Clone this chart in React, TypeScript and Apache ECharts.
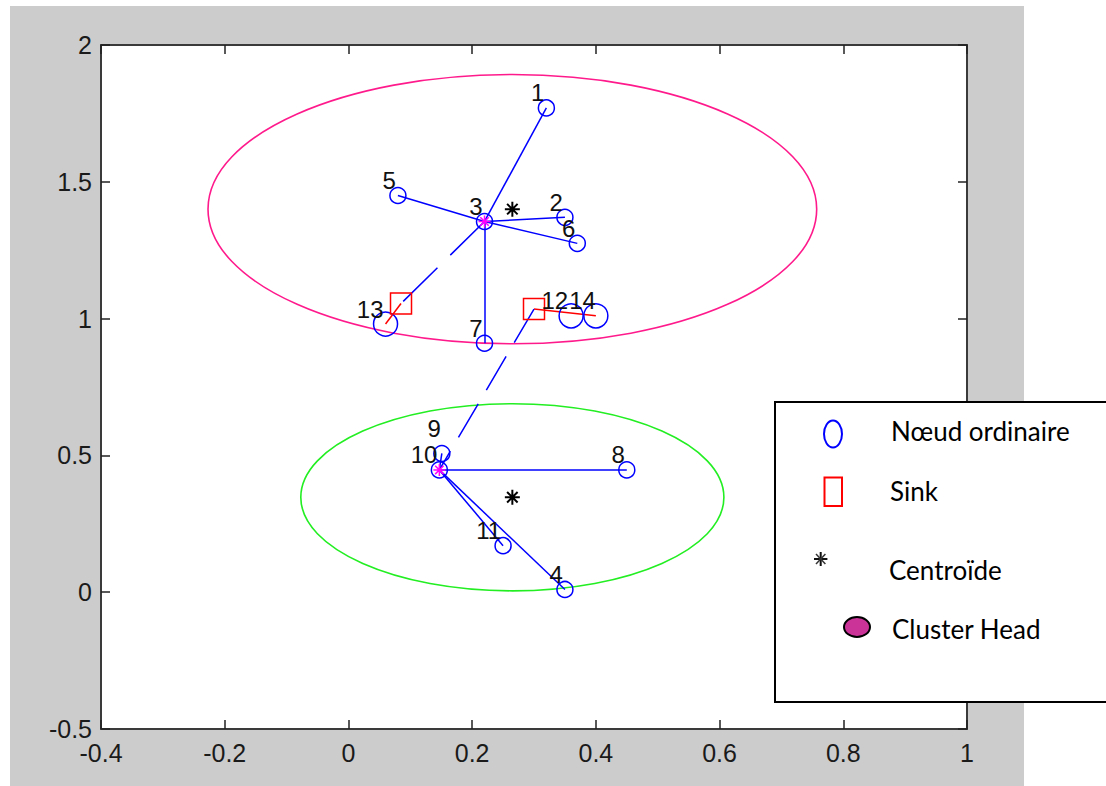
import React, { useEffect, useRef } from "react";
import * as echarts from "echarts";

// ---- data ----
const nodeIds = [1, 2, 3, 4, 5, 6, 7, 8, 9, 10, 11, 12, 13, 14];
const nodeX = [0.32, 0.35, 0.22, 0.35, 0.08, 0.37, 0.22, 0.45, 0.151, 0.147, 0.25, 0.36, 0.06, 0.4];
const nodeY = [1.77, 1.37, 1.355, 0.01, 1.45, 1.275, 0.91, 0.447, 0.507, 0.447, 0.17, 1.01, 0.98, 1.01];
const largeNodeIds = [12, 13, 14];
const clusterHeadIds = [3, 10];
const sinkX = [0.085, 0.3];
const sinkY = [1.055, 1.035];
const centroidX = [0.265, 0.265];
const centroidY = [1.4, 0.347];
const clusterRadius = [0.492, 0.342];
const memberLinks = [[3, 1], [3, 5], [3, 2], [3, 6], [3, 7], [10, 9], [10, 8], [10, 4], [10, 11]];
const headToSink = [[3, 0], [10, 1]]; // [cluster head id, sink index]
const sinkToNode = [[0, 13], [1, 14]]; // [sink index, node id]
const X_MIN = -0.4, X_MAX = 1, X_STEP = 0.2;
const Y_MIN = -0.5, Y_MAX = 2, Y_STEP = 0.5;
const legendLabels = ["Nœud ordinaire", "Sink", "Centroïde", "Cluster Head"];

// ---- styles ----
const clusterColors = ["#ff1a8c", "#22ee22"];
const BLUE = "#0000ff";
const RED = "#ff0000";
const MAGENTA = "#ff00ff";
const AXIS_FONT = "'Liberation Sans', Arial, sans-serif";
const LEGEND_FONT = "Lato, 'Open Sans', sans-serif";
const ASTERISK = "path://M6,0L6,12M0,6L12,6M1.8,1.8L10.2,10.2M1.8,10.2L10.2,1.8";
const LABEL_NUDGE: Record<number, number[]> = { 9: [-1, -25], 12: [-3, -15], 14: [0, -15] };

const pt = (id: number) => {
  const i = nodeIds.indexOf(id);
  return [nodeX[i], nodeY[i]];
};

function buildOption() {
  const toItem = (id: number) => {
    const item: any = { value: [...pt(id), id] };
    if (LABEL_NUDGE[id]) item.label = { offset: LABEL_NUDGE[id] };
    return item;
  };
  const regular = nodeIds.filter((id) => largeNodeIds.indexOf(id) < 0).map(toItem);
  const large = largeNodeIds.map(toItem);
  const heads = clusterHeadIds.map((id) => pt(id));
  const sinks = sinkX.map((x, i) => [x, sinkY[i]]);
  const centroids = centroidX.map((x, i) => [x, centroidY[i], clusterRadius[i]]);

  const redLines = sinkToNode.map(([s, id]) => ({
    coords: [sinks[s], pt(id)],
    lineStyle: { color: RED, width: 1.5, type: "solid", opacity: 1 },
  }));
  const blueLines = memberLinks.map(([a, b]) => ({
    coords: [pt(a), pt(b)],
    lineStyle: { color: BLUE, width: 1.5, type: "solid", opacity: 1 },
  }));
  const dashes = [[48, 18], [39, 16]];
  const sinkLines = headToSink.map(([h, s], i) => ({
    coords: i === 0 ? [pt(h), sinks[s]] : [sinks[s], pt(h)],
    lineStyle: { color: BLUE, width: 1.5, type: dashes[i], opacity: 1 },
  }));

  const nodeLabel = {
    show: true,
    position: "inside",
    align: "right",
    verticalAlign: "middle",
    offset: [-2, -15],
    formatter: (p: any) => String(p.value[2]),
    fontSize: 24,
    fontFamily: AXIS_FONT,
    color: "#111",
  };

  const axisCommon = {
    type: "value",
    axisLine: { show: true, onZero: false, lineStyle: { color: "#3a3a3a", width: 2 } },
    axisTick: { show: true, inside: true, length: 9, lineStyle: { color: "#222", width: 1.5 } },
    splitLine: { show: false },
  };
  const labelStyle = { color: "#1a1a1a", fontSize: 25, fontFamily: AXIS_FONT };

  return {
    animation: false,
    grid: { left: 101, top: 45, width: 866, height: 684, show: true, backgroundColor: "#ffffff", borderWidth: 0 },
    xAxis: [
      { ...axisCommon, position: "bottom", min: X_MIN, max: X_MAX, interval: X_STEP, axisLabel: { ...labelStyle, margin: 11 } },
      { ...axisCommon, position: "top", min: X_MIN, max: X_MAX, interval: X_STEP, axisLabel: { show: false } },
    ],
    yAxis: [
      { ...axisCommon, position: "left", min: Y_MIN, max: Y_MAX, interval: Y_STEP, axisLabel: { ...labelStyle, margin: 9 } },
      { ...axisCommon, position: "right", min: Y_MIN, max: Y_MAX, interval: Y_STEP, axisLabel: { show: false } },
    ],
    series: [
      {
        type: "custom",
        silent: true,
        data: centroids,
        renderItem: (params: any, api: any) => {
          const c = api.coord([api.value(0), api.value(1)]);
          const s = api.size([api.value(2), api.value(2)]);
          return {
            type: "ellipse",
            shape: { cx: c[0], cy: c[1], rx: s[0], ry: s[1] },
            style: { fill: "none", stroke: clusterColors[params.dataIndex], lineWidth: 1.6 },
          };
        },
      },
      { type: "lines", coordinateSystem: "cartesian2d", silent: true, lineStyle: { opacity: 1 }, data: redLines },
      { type: "lines", coordinateSystem: "cartesian2d", silent: true, lineStyle: { opacity: 1 }, data: [...blueLines, ...sinkLines] },
      {
        type: "scatter",
        silent: true,
        symbol: "circle",
        symbolSize: 16,
        data: regular,
        itemStyle: { color: "rgba(0,0,0,0)", borderColor: BLUE, borderWidth: 1.5, opacity: 1 },
        label: nodeLabel,
      },
      {
        type: "scatter",
        silent: true,
        symbol: "circle",
        symbolSize: 24,
        data: large,
        itemStyle: { color: "rgba(0,0,0,0)", borderColor: BLUE, borderWidth: 1.5, opacity: 1 },
        label: nodeLabel,
      },
      {
        type: "scatter",
        silent: true,
        symbol: "rect",
        symbolSize: 21,
        data: sinks,
        itemStyle: { color: "rgba(0,0,0,0)", borderColor: RED, borderWidth: 1.5, opacity: 1 },
      },
      {
        type: "scatter",
        silent: true,
        symbol: ASTERISK,
        symbolSize: 12,
        data: heads,
        itemStyle: { color: "none", borderColor: MAGENTA, borderWidth: 1.5, opacity: 1 },
      },
      {
        type: "scatter",
        silent: true,
        symbol: ASTERISK,
        symbolSize: 15,
        data: centroids.map((c) => [c[0], c[1]]),
        itemStyle: { color: "none", borderColor: "#000", borderWidth: 2, opacity: 1 },
      },
    ],
    graphic: [
      {
        type: "rect",
        shape: { x: 775, y: 402, width: 340, height: 300 },
        style: { fill: "#fff", stroke: "#000", lineWidth: 2 },
        z: 100,
      },
      {
        type: "ellipse",
        shape: { cx: 833, cy: 434, rx: 9, ry: 13.5 },
        style: { fill: "#fff", stroke: BLUE, lineWidth: 2 },
        z: 101,
      },
      {
        type: "rect",
        shape: { x: 824.5, y: 477.5, width: 17.5, height: 28.5 },
        style: { fill: "#fff", stroke: RED, lineWidth: 2 },
        z: 101,
      },
      { type: "line", shape: { x1: 820.7, y1: 552, x2: 820.7, y2: 566 }, style: { stroke: "#111", lineWidth: 2 }, z: 101 },
      { type: "line", shape: { x1: 814, y1: 559, x2: 827.4, y2: 559 }, style: { stroke: "#111", lineWidth: 2 }, z: 101 },
      { type: "line", shape: { x1: 816, y1: 554, x2: 825.4, y2: 564 }, style: { stroke: "#333", lineWidth: 1.5 }, z: 101 },
      { type: "line", shape: { x1: 816, y1: 564, x2: 825.4, y2: 554 }, style: { stroke: "#333", lineWidth: 1.5 }, z: 101 },
      {
        type: "ellipse",
        shape: { cx: 857, cy: 627, rx: 13, ry: 10 },
        style: { fill: "#cc3399", stroke: "#000", lineWidth: 2 },
        z: 101,
      },
      ...[431, 491, 570, 629].map((y, i) => ({
        type: "text",
        x: [891, 890, 889, 892][i],
        y,
        z: 101,
        style: {
          text: legendLabels[i],
          fill: "#000",
          font: `26px ${LEGEND_FONT}`,
          textAlign: "left",
          textVerticalAlign: "middle",
        },
      })),
    ],
  };
}

export default function App() {
  const ref = useRef<HTMLDivElement>(null);
  useEffect(() => {
    if (!ref.current) return;
    const chart = echarts.init(ref.current, null, { renderer: "svg" });
    chart.setOption(buildOption() as any);
    return () => chart.dispose();
  }, []);
  return (
    <div style={{ position: "absolute", left: 0, top: 0, width: 1106, height: 786, background: "#fff", overflow: "hidden" }}>
      <div style={{ position: "absolute", left: 10, top: 6, width: 1014, height: 780, background: "#cccccc" }} />
      <div ref={ref} style={{ position: "absolute", left: 0, top: 0, width: 1106, height: 786 }} />
    </div>
  );
}
